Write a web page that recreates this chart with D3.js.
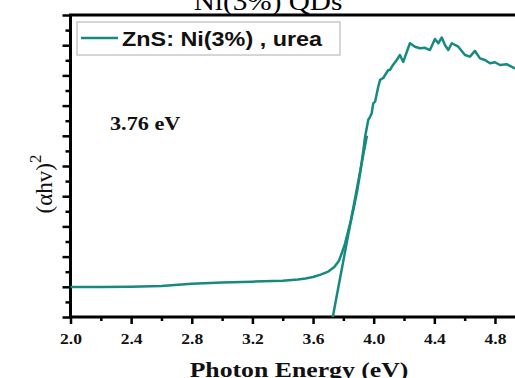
<!DOCTYPE html>
<html><head><meta charset="UTF-8">
<style>
  body { margin: 0; background: #fff; }
  svg { display: block; overflow: hidden; }
  .serif { font-family: "Liberation Serif", "Times New Roman", serif; }
</style>
<script src="https://cdn.jsdelivr.net/npm/d3@7/dist/d3.min.js"></script>
</head>
<body>
<svg id="chart" width="515" height="378"></svg>
<script>
// photon energy (eV) and (alpha h v)^2 in arbitrary units
var energy = [2.00, 2.20, 2.40, 2.60, 2.80, 3.00, 3.20, 3.40, 3.50, 3.55, 3.60, 3.65, 3.70, 3.74, 3.77,
  3.79, 3.81, 3.83, 3.85, 3.87, 3.89, 3.91, 3.93, 3.943, 3.964, 3.976, 3.987, 3.997, 4.009, 4.030,
  4.042, 4.063, 4.096, 4.108, 4.127, 4.152, 4.173, 4.195, 4.218, 4.239, 4.272, 4.305, 4.338, 4.371,
  4.404, 4.426, 4.449, 4.470, 4.492, 4.515, 4.558, 4.602, 4.635, 4.668, 4.701, 4.734, 4.767, 4.800,
  4.833, 4.877, 4.921, 4.965];
var absorb = [1.99, 1.99, 2.00, 2.05, 2.20, 2.28, 2.34, 2.40, 2.48, 2.55, 2.65, 2.81, 3.01, 3.31, 3.71,
  4.24, 4.83, 5.63, 6.40, 7.30, 8.30, 9.50, 10.90, 11.92, 13.05, 13.26, 13.50, 14.15, 14.26, 15.25,
  15.70, 15.83, 16.36, 16.36, 16.69, 17.02, 17.35, 16.89, 17.55, 18.13, 17.90, 17.80, 17.83, 17.68,
  18.41, 18.13, 18.51, 18.01, 17.68, 18.13, 17.90, 17.35, 17.24, 17.62, 17.13, 17.02, 16.80, 16.87,
  16.69, 16.74, 16.51, 16.36];
// linear fit to the absorption edge
var tangentX = [3.73, 3.955];
var tangentY = [0, 12];

var xMajor = [2.0, 2.4, 2.8, 3.2, 3.6, 4.0, 4.4, 4.8];
var xMinor = [2.2, 2.6, 3.0, 3.4, 3.8, 4.2, 4.6, 5.0];
var yMajor = [0, 2, 4, 6, 8, 10, 12, 14, 16, 18, 20];
var yMinor = [1, 3, 5, 7, 9, 11, 13, 15, 17, 19];

var teal = "#168a7e";
var stretch = "scale(1.17,1)";

var svg = d3.select("#chart");
var x = d3.scaleLinear().domain([2.0, 5.0]).range([70.5, 525.3]);
var y = d3.scaleLinear().domain([0, 20]).range([317, 15]);

// title, only its lower part is inside the picture
svg.append("text").attr("class", "serif")
  .attr("transform", "translate(268,10) " + stretch)
  .attr("text-anchor", "middle").style("font-size", "25px")
  .text("Ni(3%) QDs");

// axes
var gx = svg.append("g").attr("transform", "translate(0," + y(0) + ")");
gx.call(d3.axisBottom(x).tickValues(xMajor).tickSize(7).tickPadding(9).tickFormat(d3.format(".1f")));
gx.append("g").call(d3.axisBottom(x).tickValues(xMinor).tickSize(4).tickFormat(""));
gx.selectAll(".domain").remove();
gx.selectAll("line").attr("stroke", "#000").attr("stroke-width", 2.5);
gx.selectAll("text").attr("class", "serif").attr("fill", "#111")
  .style("font-size", "15px").style("font-weight", "bold").attr("transform", stretch);

var gy = svg.append("g").attr("transform", "translate(" + x(2.0) + ",0)");
gy.call(d3.axisLeft(y).tickValues(yMajor).tickSize(8).tickFormat(""));
gy.append("g").call(d3.axisLeft(y).tickValues(yMinor).tickSize(5).tickFormat(""));
gy.selectAll(".domain").remove();
gy.selectAll("line").attr("stroke", "#000").attr("stroke-width", 2.5);

// frame
svg.append("line").attr("x1", x(2.0) - 1.5).attr("x2", 515).attr("y1", y(0)).attr("y2", y(0))
  .attr("stroke", "#000").attr("stroke-width", 3);
svg.append("line").attr("x1", x(2.0) - 1.5).attr("x2", 515).attr("y1", y(20)).attr("y2", y(20))
  .attr("stroke", "#000").attr("stroke-width", 3);
svg.append("line").attr("x1", x(2.0)).attr("x2", x(2.0)).attr("y1", y(20)).attr("y2", y(0))
  .attr("stroke", "#000").attr("stroke-width", 3);

// curve and tangent
var line = d3.line().x(function (d) { return x(d[0]); }).y(function (d) { return y(d[1]); });
svg.append("path").datum(d3.zip(energy, absorb))
  .attr("d", line).attr("fill", "none").attr("stroke", teal).attr("stroke-width", 2.5)
  .attr("stroke-linejoin", "round");
svg.append("path").datum(d3.zip(tangentX, tangentY))
  .attr("d", line).attr("fill", "none").attr("stroke", teal).attr("stroke-width", 2.5);

// legend
svg.append("rect").attr("x", 77).attr("y", 22).attr("width", 263).attr("height", 33)
  .attr("fill", "#fff").attr("stroke", "#c8c8c8").attr("stroke-width", 1.5);
svg.append("line").attr("x1", 81).attr("x2", 118).attr("y1", 38).attr("y2", 38)
  .attr("stroke", teal).attr("stroke-width", 2.5);
svg.append("text").attr("transform", "translate(122,46) " + stretch)
  .style("font-family", "'Liberation Sans', Arial, sans-serif")
  .style("font-size", "20px").style("font-weight", "bold").attr("fill", "#111")
  .text("ZnS: Ni(3%) , urea");

// band gap note
svg.append("text").attr("class", "serif").attr("transform", "translate(110,130) " + stretch)
  .style("font-size", "19px").style("font-weight", "bold").attr("fill", "#111")
  .text("3.76 eV");

// axis titles
svg.append("text").attr("class", "serif").attr("transform", "translate(299,377) " + stretch)
  .attr("text-anchor", "middle").style("font-size", "22px").style("font-weight", "bold")
  .attr("fill", "#111").text("Photon Energy (eV)");

var yl = svg.append("text").attr("class", "serif")
  .attr("transform", "translate(52,184) rotate(-90)")
  .attr("text-anchor", "middle").style("font-size", "23px").attr("fill", "#111");
yl.append("tspan").text("(\u03b1hv)");
yl.append("tspan").attr("dy", -11).style("font-size", "17px").text("2");
</script>
</body></html>
